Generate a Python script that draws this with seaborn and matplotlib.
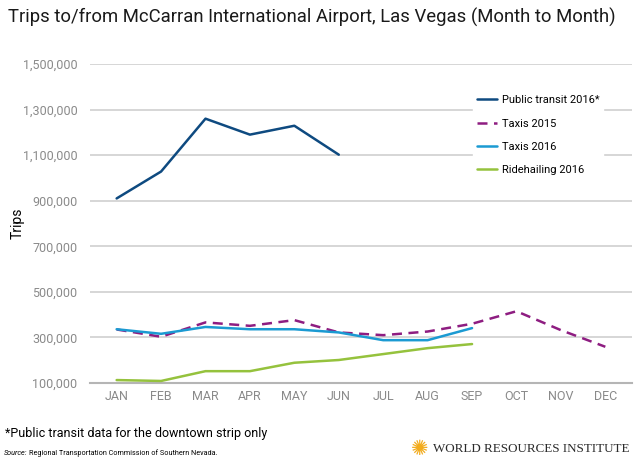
import matplotlib
matplotlib.use("Agg")
import matplotlib.pyplot as plt
import seaborn as sns
import pandas as pd
import numpy as np
from matplotlib.ticker import FuncFormatter

months = ["JAN", "FEB", "MAR", "APR", "MAY", "JUN", "JUL", "AUG", "SEP", "OCT", "NOV", "DEC"]
public_transit_2016 = [910000, 1028000, 1260000, 1190000, 1229000, 1102000]
taxis_2015 = [335000, 303000, 366000, 351000, 376000, 322000, 310000, 326000, 360000, 415000, 332000, 259000]
taxis_2016 = [336000, 316000, 346000, 336000, 336000, 322000, 288000, 288000, 341000]
ridehailing_2016 = [113000, 109000, 152000, 152000, 189000, 201000, 227000, 253000, 271000]
y_ticks = [100000, 300000, 500000, 700000, 900000, 1100000, 1300000, 1500000]

sns.set_theme(style="white")
fonts = ["Roboto", "DejaVu Sans"]
plt.rcParams["font.family"] = fonts

fig = plt.figure(figsize=(6.4, 4.65), dpi=100)
ax = fig.add_axes([0.1406, 0.1763, 0.8469, 0.6861])

series = [
    ("Public transit 2016*", public_transit_2016, "#0e4a80", "-"),
    ("Taxis 2015", taxis_2015, "#8e1d81", (0, (4, 2.6))),
    ("Taxis 2016", taxis_2016, "#1b9ad2", "-"),
    ("Ridehailing 2016", ridehailing_2016, "#95c23d", "-"),
]

for name, vals, col, ls in series:
    df = pd.DataFrame({"x": np.arange(len(vals)), "y": vals})
    sns.lineplot(data=df, x="x", y="y", ax=ax, color=col, lw=1.8,
                 linestyle=ls, label=name, zorder=3)

ax.set_xlim(-0.6, 11.6)
ax.set_ylim(100000, 1500000)
ax.set_yticks(y_ticks)
ax.yaxis.set_major_formatter(FuncFormatter(lambda v, p: f"{int(v):,}"))
ax.set_xticks(range(12))
ax.set_xticklabels(months)
ax.grid(axis="y", color="#d3d3d3", lw=1.3, zorder=0)
ax.grid(axis="x", visible=False)
for s in ["top", "right", "left"]:
    ax.spines[s].set_visible(False)
ax.spines["bottom"].set_color("#b5b5b5")
ax.spines["bottom"].set_linewidth(1.5)
ax.tick_params(axis="both", length=0, colors="#8a8a8a", labelsize=9)
ax.tick_params(axis="y", pad=9)
ax.tick_params(axis="x", pad=5)
ax.set_xlabel("")
ax.set_ylabel("Trips", fontsize=10, color="black")
ax.yaxis.set_label_coords(-0.12, 0.5)

leg = ax.legend(loc="upper left", bbox_to_anchor=(0.697, 0.93), frameon=True,
                facecolor="white", edgecolor="white", framealpha=1,
                fontsize=8, handlelength=1.8, handletextpad=0.5,
                labelspacing=1.2, borderpad=0.3)
for t in leg.get_texts():
    t.set_color("black")

fig.text(0.012, 0.962, "Trips to/from McCarran International Airport, Las Vegas (Month to Month)",
         fontsize=13.3, color="#1a1a1a", va="center", ha="left")
fig.text(0.008, 0.067, "*Public transit data for the downtown strip only",
         fontsize=9, color="black", va="center", ha="left")
fig.text(0.006, 0.025, "Source:", fontsize=5.2, style="italic", color="black", va="center", ha="left")
fig.text(0.045, 0.025, "Regional Transportation Commission of Southern Nevada.",
         fontsize=5.2, color="black", va="center", ha="left")
fig.text(0.655, 0.035, "\u273A", fontsize=15, color="#f2ab1c", va="center", ha="center",
         family="DejaVu Sans")
fig.text(0.677, 0.035, "WORLD RESOURCES INSTITUTE", fontsize=9.4, color="#2a2a2a",
         va="center", ha="left", family=["Liberation Serif", "DejaVu Serif"])

fig.savefig("out.png", dpi=100)
